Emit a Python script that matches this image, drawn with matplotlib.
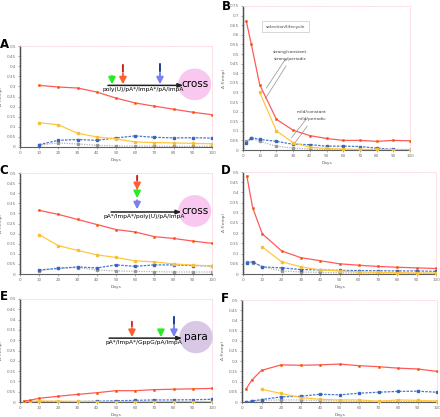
import matplotlib
matplotlib.use("Agg")
import matplotlib.pyplot as plt
from matplotlib.patches import Ellipse

# x values
days_a = [10, 20, 30, 40, 50, 60, 70, 80, 90, 100]
days_b = [2, 5, 10, 20, 30, 40, 50, 60, 70, 80, 90, 100]

# panel A
a_red = [0.305, 0.297, 0.292, 0.272, 0.242, 0.218, 0.202, 0.187, 0.172, 0.160]
a_yel = [0.120, 0.110, 0.068, 0.050, 0.040, 0.025, 0.022, 0.020, 0.018, 0.016]
a_blu = [0.012, 0.033, 0.037, 0.033, 0.045, 0.055, 0.048, 0.045, 0.046, 0.044]
a_gry = [0.010, 0.020, 0.015, 0.008, 0.005, 0.005, 0.004, 0.003, 0.003, 0.003]

# panel B
b_red = [0.670, 0.550, 0.340, 0.160, 0.103, 0.075, 0.060, 0.050, 0.050, 0.045, 0.050, 0.048]
b_yel = [0.300, 0.100, 0.038, 0.015, 0.008, 0.005, 0.003, 0.003, 0.002, 0.001]
b_blu = [0.035, 0.065, 0.055, 0.045, 0.030, 0.028, 0.020, 0.020, 0.018, 0.010, 0.003, 0.002]
b_gry = [0.045, 0.060, 0.045, 0.020, 0.010, 0.005, 0.003, 0.002, 0.002, 0.001, 0.001, 0.001]

# panel C
c_red = [0.315, 0.295, 0.270, 0.245, 0.220, 0.208, 0.185, 0.176, 0.163, 0.152]
c_yel = [0.195, 0.140, 0.117, 0.095, 0.082, 0.065, 0.060, 0.050, 0.044, 0.040]
c_blu = [0.020, 0.028, 0.035, 0.030, 0.045, 0.038, 0.045, 0.045, 0.042, 0.040]
c_gry = [0.015, 0.030, 0.032, 0.020, 0.015, 0.013, 0.012, 0.010, 0.010, 0.010]

# panel D
d_red = [0.480, 0.325, 0.197, 0.113, 0.080, 0.065, 0.050, 0.043, 0.037, 0.033, 0.030, 0.027]
d_yel = [0.132, 0.060, 0.035, 0.020, 0.015, 0.010, 0.008, 0.007, 0.005, 0.005]
d_blu = [0.055, 0.060, 0.035, 0.030, 0.022, 0.020, 0.018, 0.017, 0.016, 0.015, 0.015, 0.013]
d_gry = [0.060, 0.055, 0.035, 0.015, 0.010, 0.008, 0.006, 0.005, 0.004, 0.004, 0.003, 0.003]

# panel E
e_red = [0.005, 0.008, 0.018, 0.028, 0.037, 0.045, 0.055, 0.055, 0.060, 0.062, 0.064, 0.066]
e_yel = [0.002, 0.003, 0.005, 0.004, 0.003, 0.002, 0.002, 0.002, 0.002, 0.002, 0.002, 0.002]
e_blu = [0.000, 0.000, 0.002, 0.002, 0.002, 0.004, 0.006, 0.008, 0.010, 0.010, 0.011, 0.013]
e_gry = [0.001, 0.001, 0.001, 0.001, 0.001, 0.001, 0.001, 0.001, 0.001, 0.001, 0.001, 0.001]

# panel F
f_red = [0.063, 0.107, 0.155, 0.182, 0.180, 0.182, 0.186, 0.178, 0.173, 0.166, 0.162, 0.150]
f_yel = [0.062, 0.042, 0.022, 0.013, 0.010, 0.010, 0.004, 0.010, 0.008, 0.005]
f_blu = [0.000, 0.005, 0.012, 0.025, 0.028, 0.038, 0.035, 0.043, 0.048, 0.052, 0.053, 0.048]
f_gry = [0.000, 0.003, 0.008, 0.010, 0.010, 0.007, 0.005, 0.003, 0.002, 0.002, 0.002, 0.002]

RED = "#ff5a5a"
YEL = "#ffc83c"
BLU = "#4a78cc"
GRY = "#b4b4b4"

W, H = 440, 417
fig = plt.figure(figsize=(W / 100, H / 100), dpi=100)


def make_ax(l, r, t, b):
    return fig.add_axes([l / W, 1 - b / H, (r - l) / W, (b - t) / H])


def style(ax, ymax, letter, lx, ly):
    ax.set_xlim(0, 100)
    ax.set_ylim(0, ymax)
    ax.set_xticks(range(0, 101, 10))
    yt = [round(0.05 * i, 2) for i in range(int(round(ymax / 0.05)) + 1)]
    ax.set_yticks(yt)
    ax.set_yticklabels(["0" if v == 0 else ("%g" % v) for v in yt])
    ax.tick_params(labelsize=3, colors="#707070", length=1.5, width=0.4, pad=1.5)
    for s in ["top", "right"]:
        ax.spines[s].set_color("#f8d4de")
        ax.spines[s].set_linestyle((0, (1, 1.5)))
        ax.spines[s].set_linewidth(0.6)
    ax.spines["left"].set_color("#505050")
    ax.spines["left"].set_linestyle((0, (1, 0.6)))
    ax.spines["left"].set_linewidth(1.0)
    ax.spines["bottom"].set_color("#606060")
    ax.spines["bottom"].set_linewidth(0.8)
    ax.set_xlabel("Days", fontsize=3.2, color="#606060", labelpad=2)
    ax.set_ylabel("Δ f(emp)", fontsize=3.2, color="#606060", labelpad=3)
    fig.text(lx / W, 1 - ly / H, letter, fontsize=8.5, fontweight="bold",
             ha="center", va="center")


def draw(ax, xs, red, yel, blu, gry):
    ax.plot(xs[-len(gry):], gry, color=GRY, ls=(0, (1, 1)), lw=0.9, marker="s", ms=1.8,
            mfc="#9a9a9a", mec="#9a9a9a", zorder=2)
    ax.plot(xs[-len(blu):], blu, color=BLU, ls=(0, (2, 1)), lw=0.9, marker="s", ms=2,
            mfc="#3a64c0", mec="#3a64c0", zorder=3)
    ax.plot(xs[-len(yel):], yel, color=YEL, lw=0.9, marker="s", ms=2,
            mfc="#f5b400", mec="#f5c040", zorder=4)
    ax.plot(xs[-len(red):], red, color=RED, lw=0.9, marker="s", ms=2,
            mfc="#e8380c", mec="#ff7a20", mew=0.4, zorder=5)


def arrow(ax, x, y0, y1, dark, light, ymid=None):
    if ymid is None:
        ymid = y0 + (y1 - y0) * 0.55
    ax.annotate("", xy=(x, ymid), xytext=(x, y0), xycoords="axes fraction",
                arrowprops=dict(arrowstyle="-", color=dark, lw=1.4), zorder=7)
    ax.annotate("", xy=(x, y1), xytext=(x, ymid + 0.01), xycoords="axes fraction",
                arrowprops=dict(arrowstyle="-|>,head_width=0.2,head_length=0.4",
                                color=light, lw=1.4, shrinkA=0, shrinkB=0), zorder=7)


def scheme(ax, x0, x1, y, label, word, cx, wcol, tw):
    ax.annotate("", xy=(x1, y), xytext=(x0, y), xycoords="axes fraction",
                arrowprops=dict(arrowstyle="-|>,head_width=0.12,head_length=0.3",
                                color="#202020", lw=1.1, shrinkA=0, shrinkB=0), zorder=6)
    ax.text((x0 + x1) / 2 - 0.01, y - 0.02, label, transform=ax.transAxes,
            fontsize=4.2, ha="center", va="top", zorder=8)
    ax.add_patch(Ellipse((cx, y + 0.01), tw, 0.30, transform=ax.transAxes,
                         color=wcol, zorder=5, clip_on=False))
    ax.text(cx, y + 0.01, word, transform=ax.transAxes, fontsize=7.5,
            ha="center", va="center", zorder=8)


# A
axA = make_ax(20, 212, 46, 147)
style(axA, 0.5, "A", 4, 44)
draw(axA, days_a, a_red, a_yel, a_blu, a_gry)
scheme(axA, 0.458, 0.85, 0.61, "poly(U)/pA*/ImpA*/pA/ImpA", "cross", 0.91, "#f8c8f0", 0.165)
arrow(axA, 0.479, 0.73, 0.62, "#22cc22", "#22ee22", ymid=0.66)
arrow(axA, 0.536, 0.84, 0.62, "#c82020", "#ff6030")
arrow(axA, 0.729, 0.85, 0.62, "#1a3c90", "#7a80f0")

# B
axB = make_ax(243, 410, 6, 150)
style(axB, 0.75, "B", 226, 6)
draw(axB, days_b, b_red, b_yel, b_blu, b_gry)
axB.text(0.254, 0.855, "selection/lifecycle", transform=axB.transAxes, fontsize=3.2,
         ha="center", va="center", color="#404040",
         bbox=dict(boxstyle="square,pad=0.8", fc="white", ec="#c8c8c8", lw=0.5))
lead = dict(arrowstyle="-", color="#909090", lw=0.5)
axB.annotate("strong/constant", xy=(13, 0.31), xytext=(18, 0.505), fontsize=3.2,
             color="#404040", arrowprops=lead)
axB.annotate("strong/periodic", xy=(12.5, 0.255), xytext=(18.6, 0.47), fontsize=3.2,
             color="#404040", arrowprops=lead)
axB.annotate("mild/constant", xy=(28, 0.052), xytext=(32.3, 0.193), fontsize=3.2,
             color="#404040", arrowprops=lead)
axB.annotate("mild/periodic", xy=(29.3, 0.016), xytext=(33, 0.156), fontsize=3.2,
             color="#404040", arrowprops=lead)

# C
axC = make_ax(20, 212, 173, 274)
style(axC, 0.5, "C", 4, 170)
draw(axC, days_a, c_red, c_yel, c_blu, c_gry)
scheme(axC, 0.474, 0.84, 0.614, "pA*/ImpA*/poly(U)/pA/ImpA", "cross", 0.91, "#f8c8f0", 0.165)
arrow(axC, 0.61, 1.0, 0.83, "#c82020", "#ff6030", ymid=0.9)
arrow(axC, 0.61, 0.83, 0.75, "#22cc22", "#22ee22", ymid=0.82)
arrow(axC, 0.61, 0.75, 0.64, "#3050b0", "#7a80f0", ymid=0.72)

# D
axD = make_ax(243, 436, 172, 274)
style(axD, 0.5, "D", 226, 170)
draw(axD, days_b, d_red, d_yel, d_blu, d_gry)

# E
axE = make_ax(20, 212, 299, 402)
style(axE, 0.5, "E", 4, 297)
draw(axE, days_b, e_red, e_yel, e_blu, e_gry)
scheme(axE, 0.464, 0.844, 0.62, "pA*/ImpA*/GppG/pA/ImpA", "para", 0.917, "#d8c8e6", 0.167)
arrow(axE, 0.583, 0.806, 0.63, "#c83030", "#ff6030")
arrow(axE, 0.734, 0.728, 0.63, "#22cc22", "#22ee22", ymid=0.68)
arrow(axE, 0.802, 0.854, 0.63, "#1a3c90", "#7a80f0")

# F
axF = make_ax(242, 437, 300, 402)
style(axF, 0.5, "F", 225, 299)
draw(axF, days_b, f_red, f_yel, f_blu, f_gry)

fig.savefig("out.png", dpi=100)
